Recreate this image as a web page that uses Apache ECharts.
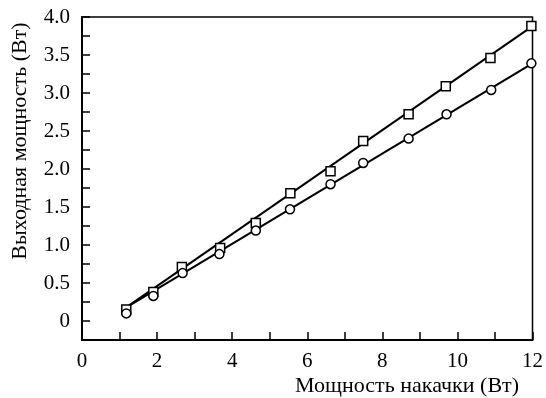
<!DOCTYPE html>
<html>
<head>
<meta charset="utf-8">
<script src="https://cdn.jsdelivr.net/npm/echarts@6/dist/echarts.min.js"></script>
<style>
  html, body { margin: 0; padding: 0; background: #fff; }
  #ec { width: 546px; height: 398px; }
</style>
</head>
<body>
<div id="ec"></div>
<script>
  // pump power (W) / output power (W)
  const squareX = [1.18, 1.9, 2.66, 3.68, 4.63, 5.55, 6.62, 7.49, 8.7, 9.69, 10.88, 11.97]
  const squareY = [0.15, 0.38, 0.71, 0.96, 1.29, 1.68, 1.97, 2.37, 2.72, 3.09, 3.46, 3.88]
  const circleX = [1.18, 1.9, 2.68, 3.66, 4.63, 5.54, 6.62, 7.49, 8.7, 9.71, 10.9, 11.97]
  const circleY = [0.1, 0.33, 0.63, 0.88, 1.19, 1.47, 1.8, 2.08, 2.4, 2.72, 3.04, 3.39]
  // fitted lines, start and end
  const squareFitX = [1.15, 12]
  const squareFitY = [0.17, 3.88]
  const circleFitX = [1.15, 12]
  const circleFitY = [0.17, 3.39]

  const xTitle = 'Мощность накачки (Вт)'
  const yTitle = 'Выходная мощность (Вт)'

  const font = 'Liberation Serif'
  const zip = (a, b) => a.map((v, i) => [v, b[i]])

  const ec = echarts.init(document.getElementById('ec'))
  ec.setOption({
    animation: false,
    backgroundColor: '#fff',
    grid: {
      left: 82, right: 13, top: 17, bottom: 58,
      show: true,
      borderColor: '#000',
      borderWidth: 1.5
    },
    xAxis: {
      type: 'value',
      min: 0, max: 12, interval: 1,
      axisLine: { onZero: false, lineStyle: { color: '#000', width: 2 } },
      axisTick: { inside: true, length: 8, lineStyle: { color: '#000', width: 1.5 } },
      axisLabel: {
        margin: 11,
        color: '#000',
        fontFamily: font,
        fontSize: 21,
        formatter: v => (v % 2 === 0 ? String(v) : '')
      },
      splitLine: { show: false }
    },
    yAxis: {
      type: 'value',
      min: -0.25, max: 4, interval: 0.25,
      axisLine: { onZero: false, lineStyle: { color: '#000', width: 2 } },
      axisTick: { inside: true, length: 8, lineStyle: { color: '#000', width: 1.5 } },
      axisLabel: {
        margin: 12,
        color: '#000',
        fontFamily: font,
        fontSize: 21,
        formatter: v => {
          if (Math.abs(v * 2 - Math.round(v * 2)) > 1e-6 || v < 0) return ''
          return v === 0 ? '0' : v.toFixed(1)
        }
      },
      splitLine: { show: false }
    },
    graphic: [
      {
        type: 'text',
        x: 519, y: 386,
        style: {
          text: xTitle, fill: '#000', font: '22px "Liberation Serif"',
          align: 'right', verticalAlign: 'middle'
        }
      },
      {
        type: 'text',
        x: 20, y: 141,
        rotation: Math.PI / 2,
        style: {
          text: yTitle, fill: '#000', font: '22px "Liberation Serif"',
          align: 'center', verticalAlign: 'middle'
        }
      }
    ],
    series: [
      {
        type: 'line',
        data: zip(squareFitX, squareFitY),
        symbol: 'none',
        lineStyle: { color: '#000', width: 2 },
        z: 2
      },
      {
        type: 'line',
        data: zip(circleFitX, circleFitY),
        symbol: 'none',
        lineStyle: { color: '#000', width: 2 },
        z: 2
      },
      {
        type: 'scatter',
        data: zip(squareX, squareY),
        symbol: 'rect',
        symbolSize: 9,
        clip: false,
        itemStyle: { color: '#fff', borderColor: '#000', borderWidth: 1.5, opacity: 1 },
        z: 3
      },
      {
        type: 'scatter',
        data: zip(circleX, circleY),
        symbol: 'circle',
        symbolSize: 9,
        clip: false,
        itemStyle: { color: '#fff', borderColor: '#000', borderWidth: 1.5, opacity: 1 },
        z: 3
      }
    ]
  })
</script>
</body>
</html>
